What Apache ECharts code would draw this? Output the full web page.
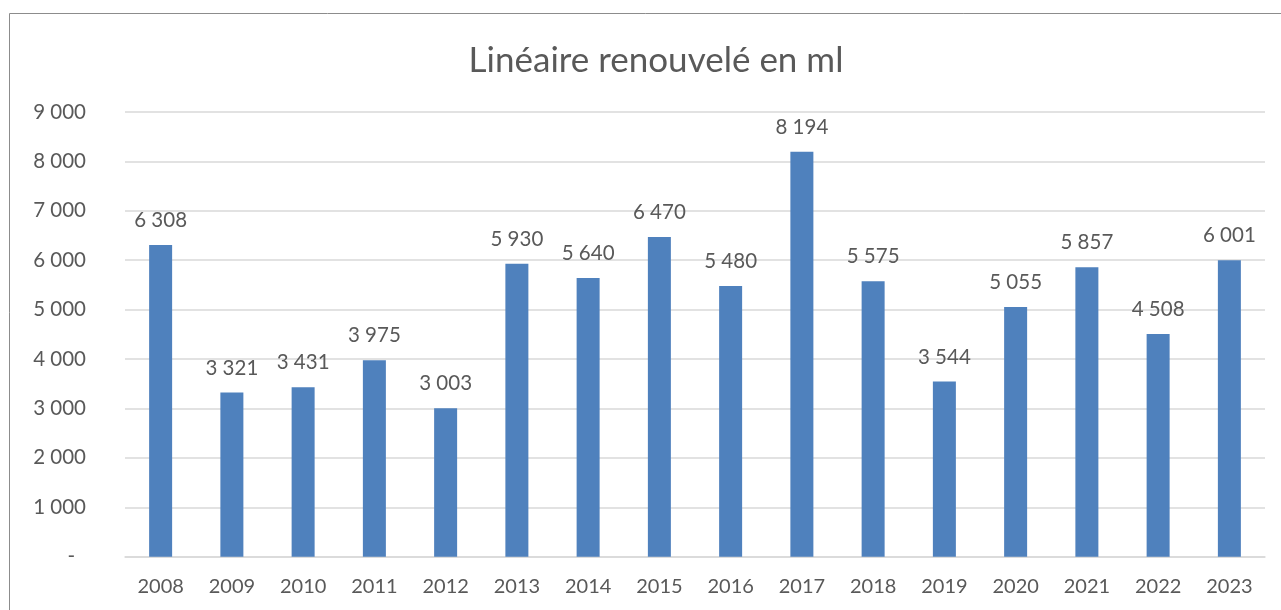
<!DOCTYPE html>
<html>
<head>
<meta charset="utf-8">
<script src="https://cdn.jsdelivr.net/npm/echarts@6/dist/echarts.min.js"></script>
<style>
  html, body { margin: 0; padding: 0; background: #fff; }
  #chart { width: 1281px; height: 610px; }
</style>
</head>
<body>
<div id="chart"></div>
<script>
// Linéaire renouvelé par année (mètres linéaires)
const years = ['2008', '2009', '2010', '2011', '2012', '2013', '2014', '2015',
               '2016', '2017', '2018', '2019', '2020', '2021', '2022', '2023'];
const lineaire = [6308, 3321, 3431, 3975, 3003, 5930, 5640, 6470,
                  5480, 8194, 5575, 3544, 5055, 5857, 4508, 6001];
const titleText = 'Linéaire renouvelé en ml';

const textColor = '#595959';
const font = 'Lato';

// French-style thousands grouping: 6308 -> "6 308"
function groupThousands(v) {
  return String(Math.round(v)).replace(/\B(?=(\d{3})+(?!\d))/g, ' ');
}

const chart = echarts.init(document.getElementById('chart'), null, { renderer: 'canvas' });

chart.setOption({
  backgroundColor: '#ffffff',
  animation: false,
  title: {
    text: titleText,
    left: 651,
    textAlign: 'center',
    top: 38,
    textStyle: { color: textColor, fontFamily: font, fontSize: 35, fontWeight: 'normal' }
  },
  graphic: [{
    type: 'rect',
    shape: { x: 9.5, y: 13.5, width: 1400, height: 800 },
    style: { fill: 'none', stroke: '#8c8c8c', lineWidth: 1 },
    silent: true,
    z: -1
  }],
  grid: { left: 125, right: 16, top: 112, bottom: 53.3 },
  xAxis: {
    type: 'category',
    data: years,
    axisLine: { show: true, lineStyle: { color: '#d9d9d9', width: 1.5 } },
    axisTick: { show: false },
    axisLabel: { color: textColor, fontFamily: font, fontSize: 20, margin: 20 }
  },
  yAxis: {
    type: 'value',
    min: 0,
    max: 9000,
    interval: 1000,
    axisLine: { show: false },
    axisTick: { show: false },
    splitLine: { lineStyle: { color: '#d9d9d9', width: 1.5 } },
    axisLabel: {
      color: textColor,
      fontFamily: font,
      fontSize: 20.5,
      margin: 39,
      formatter: function (v) {
        return v === 0 ? '{dash|-}' : groupThousands(v);
      },
      rich: {
        dash: { color: textColor, fontFamily: font, fontSize: 20.5, padding: [0, 11, 0, 0] }
      }
    }
  },
  series: [{
    type: 'bar',
    data: lineaire,
    barWidth: 23,
    itemStyle: { color: '#4f81bd' },
    label: {
      show: true,
      position: 'top',
      distance: 14,
      color: textColor,
      fontFamily: font,
      fontSize: 20.5,
      formatter: function (p) { return groupThousands(p.value); }
    }
  }]
});
</script>
</body>
</html>
